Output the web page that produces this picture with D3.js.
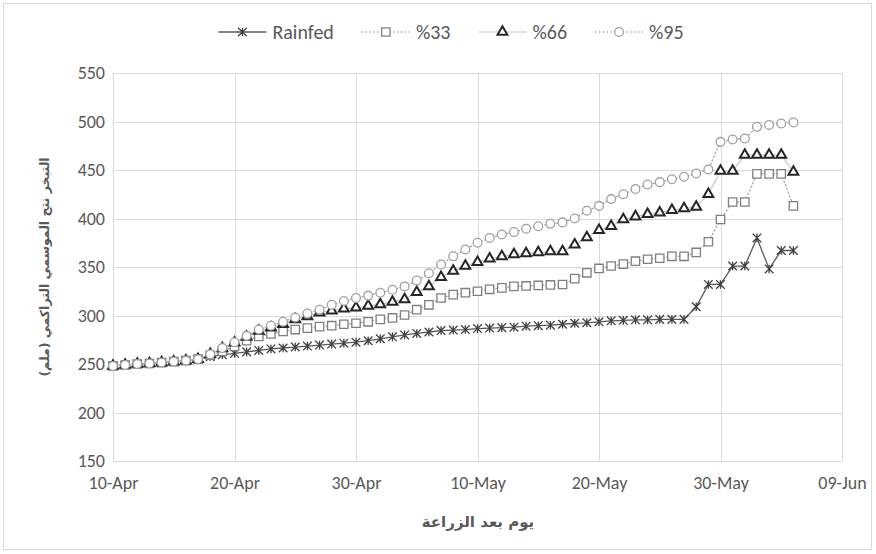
<!DOCTYPE html>
<html>
<head>
<meta charset="utf-8">
<script src="https://cdn.jsdelivr.net/npm/d3@7"></script>
<style>
  html, body { margin: 0; padding: 0; background: #fff; }
  svg { display: block; }
</style>
</head>
<body>
<svg id="chart" width="876" height="554"></svg>
<script>
// Daily cumulative ET readings, 10-Apr through 05-Jun
const firstDay = "2020-04-10";
const lastDay = "2020-06-05";

const rainfed = [248, 249, 250, 250.5, 251.5, 252.5, 253.5, 255,
  257.5, 259.5, 261, 262.5, 264, 265.5, 266.5, 267.5, 268.5, 269.5, 270.5, 271.5,
  272.5, 274, 276, 278, 280, 281.5, 283, 284.5, 285, 285.5, 286.5, 287, 287.5,
  288, 289, 289.5, 290, 291, 292, 292.5, 293.5, 294.5, 295, 295.5, 295.5, 296,
  296, 296, 309, 332, 332, 351, 351, 380, 348, 367, 367];

const pct33 = [248, 249, 250, 250.5, 251.5, 252.5, 253.5, 255,
  259, 263, 268, 274, 278.5, 281, 283.5, 285.5, 287, 288.5, 289.5, 291,
  292, 293.5, 296, 297.5, 300.5, 306, 311, 318, 321.5, 323.5, 325, 327, 328.5,
  330, 330.5, 331, 331.5, 332, 338, 344, 348.5, 351, 353, 356, 358, 359,
  361, 361, 365, 376, 399, 417, 417, 446, 446, 446, 413];

const pct66 = [248, 249, 250, 250.5, 251.5, 252.5, 253.5, 255,
  260, 266, 272, 278, 284, 287.5, 291, 296, 299, 303, 305, 307,
  308, 310, 311.5, 314, 316.5, 324, 330, 339.5, 346, 351, 355, 358.5, 361,
  363, 364, 365, 366, 366, 373, 380.5, 388, 392, 399, 402, 404.5, 406,
  408.5, 410.5, 412, 425, 449, 449, 465.5, 465.5, 465.5, 465.5, 448];

const pct95 = [248, 249, 250, 250.5, 251.5, 252.5, 253.5, 255,
  260, 266.5, 272.5, 279, 285.5, 289.5, 293.5, 298, 302, 306, 311, 315,
  318, 320.5, 323.5, 326.5, 330, 336, 343.5, 352.5, 361, 368, 375, 380, 383.5,
  386, 389.5, 392, 394.5, 396, 400, 408, 413, 420, 425, 430.5, 435, 437.5,
  440.5, 443, 446.5, 450.5, 479, 481.5, 482.5, 494.5, 496.5, 498, 499];

const seriesNames = ["Rainfed", "%33", "%66", "%95"];
const yTicks = [150, 200, 250, 300, 350, 400, 450, 500, 550];
const xTickDates = ["2020-04-10", "2020-04-20", "2020-04-30", "2020-05-10",
  "2020-05-20", "2020-05-30", "2020-06-09"];
const yTitle = "التبخر نتح الموسمي التراكمي (ملم)";
const xTitle = "يوم بعد الزراعة";

// ---- layout ----
const W = 876, H = 554;
const margin = { left: 113, right: 34, top: 73, bottom: 93 };
const latin = "Carlito, Calibri, Lato, 'Open Sans', sans-serif";
const arabic = "'DejaVu Sans', 'Noto Sans', sans-serif";
const textColor = "#595959";
const gridColor = "#d9d9d9";

const svg = d3.select("#chart");
const parse = d3.utcParse("%Y-%m-%d");
const days = d3.utcDay.range(parse(firstDay), d3.utcDay.offset(parse(lastDay), 1));

const x = d3.scaleUtc()
  .domain([parse(xTickDates[0]), parse(xTickDates[xTickDates.length - 1])])
  .range([margin.left, W - margin.right]);
const y = d3.scaleLinear()
  .domain([yTicks[0], yTicks[yTicks.length - 1]])
  .range([H - margin.bottom, margin.top]);

// outer chart frame
svg.append("rect")
  .attr("x", 3.5).attr("y", 3.5)
  .attr("width", W - 8).attr("height", H - 8)
  .attr("fill", "#fff").attr("stroke", gridColor).attr("stroke-width", 1);

// gridlines + tick labels through d3 axes
const yAxis = d3.axisLeft(y).tickValues(yTicks).tickSize(-(W - margin.left - margin.right)).tickPadding(8);
const gy = svg.append("g").attr("transform", `translate(${margin.left},0)`).call(yAxis);
gy.select(".domain").remove();
gy.selectAll(".tick line").attr("stroke", gridColor).attr("shape-rendering", "crispEdges");
gy.selectAll(".tick text").attr("fill", textColor).style("font-family", latin).style("font-size", "18px");

const xAxis = d3.axisBottom(x).tickValues(xTickDates.map(parse))
  .tickFormat(d3.utcFormat("%d-%b"))
  .tickSize(-(H - margin.top - margin.bottom)).tickPadding(15);
const gx = svg.append("g").attr("transform", `translate(0,${H - margin.bottom})`).call(xAxis);
gx.select(".domain").remove();
gx.selectAll(".tick line").attr("stroke", gridColor).attr("shape-rendering", "crispEdges");
gx.selectAll(".tick text").attr("fill", textColor).style("font-family", latin).style("font-size", "18px");

// bottom baseline
svg.append("line")
  .attr("x1", margin.left).attr("x2", W - margin.right)
  .attr("y1", y(yTicks[0])).attr("y2", y(yTicks[0]))
  .attr("stroke", gridColor).attr("shape-rendering", "crispEdges");

// ---- marker shapes ----
function starPath(r) {
  return `M0,${-r}V${r}M${-r},${-r}L${r},${r}M${-r},${r}L${r},${-r}`;
}
const markers = {
  star: { path: starPath(4.3), fill: "none", stroke: "#404040", sw: 1.3 },
  square: { path: d3.symbol(d3.symbolSquare, 70)(), fill: "#fff", stroke: "#7f7f7f", sw: 1.3 },
  triangle: { path: d3.symbol(d3.symbolTriangle, 42)(), fill: "#fff", stroke: "#262626", sw: 2 },
  circle: { path: d3.symbol(d3.symbolCircle, 60)(), fill: "#fff", stroke: "#a0a0a0", sw: 1.3 }
};

const series = [
  { name: seriesNames[0], values: rainfed, line: "#595959", lw: 1.3, dash: null, marker: "star" },
  { name: seriesNames[1], values: pct33, line: "#a6a6a6", lw: 1.3, dash: "1.3 2.6", marker: "square" },
  { name: seriesNames[2], values: pct66, line: "#c8c8c8", lw: 1.2, dash: null, marker: "triangle" },
  { name: seriesNames[3], values: pct95, line: "#a6a6a6", lw: 1.3, dash: "1.3 2.6", marker: "circle" }
];

const line = d3.line().x((d, i) => x(days[i])).y(d => y(d));

series.forEach(s => {
  const g = svg.append("g");
  g.append("path")
    .attr("d", line(s.values))
    .attr("fill", "none")
    .attr("stroke", s.line)
    .attr("stroke-width", s.lw)
    .attr("stroke-linecap", "round")
    .attr("stroke-dasharray", s.dash);
  const m = markers[s.marker];
  g.selectAll("path.mk").data(s.values).join("path")
    .attr("class", "mk")
    .attr("d", m.path)
    .attr("transform", (d, i) => `translate(${x(days[i])},${y(d)})`)
    .attr("fill", m.fill)
    .attr("stroke", m.stroke)
    .attr("stroke-width", m.sw);
});

// ---- legend ----
const legend = svg.append("g");
let cursor = 0;
series.forEach(s => {
  const item = legend.append("g").attr("transform", `translate(${cursor},0)`);
  item.append("line")
    .attr("x1", 0).attr("x2", 48).attr("y1", 0).attr("y2", 0)
    .attr("stroke", s.line).attr("stroke-width", s.lw)
    .attr("stroke-dasharray", s.dash);
  const m = markers[s.marker];
  item.append("path").attr("d", m.path).attr("transform", "translate(24,0)")
    .attr("fill", m.fill).attr("stroke", m.stroke).attr("stroke-width", m.sw);
  const t = item.append("text")
    .attr("x", 54).attr("y", 0).attr("dy", "0.35em")
    .attr("fill", textColor)
    .style("font-family", latin).style("font-size", "20px")
    .text(s.name);
  cursor += 54 + t.node().getComputedTextLength() + 28;
});
cursor -= 28;
legend.attr("transform", `translate(${451 - cursor / 2},32)`);

// ---- axis titles ----
svg.append("text")
  .attr("transform", `translate(45,${(margin.top + H - margin.bottom) / 2}) rotate(-90)`)
  .attr("text-anchor", "middle").attr("dy", "0.35em")
  .attr("fill", textColor)
  .style("font-family", arabic).style("font-size", "12.5px").style("font-weight", "bold")
  .text(yTitle);

svg.append("text")
  .attr("x", 478).attr("y", 522)
  .attr("text-anchor", "middle").attr("dy", "0.35em")
  .attr("fill", textColor)
  .style("font-family", arabic).style("font-size", "15px").style("font-weight", "bold")
  .text(xTitle);
</script>
</body>
</html>
